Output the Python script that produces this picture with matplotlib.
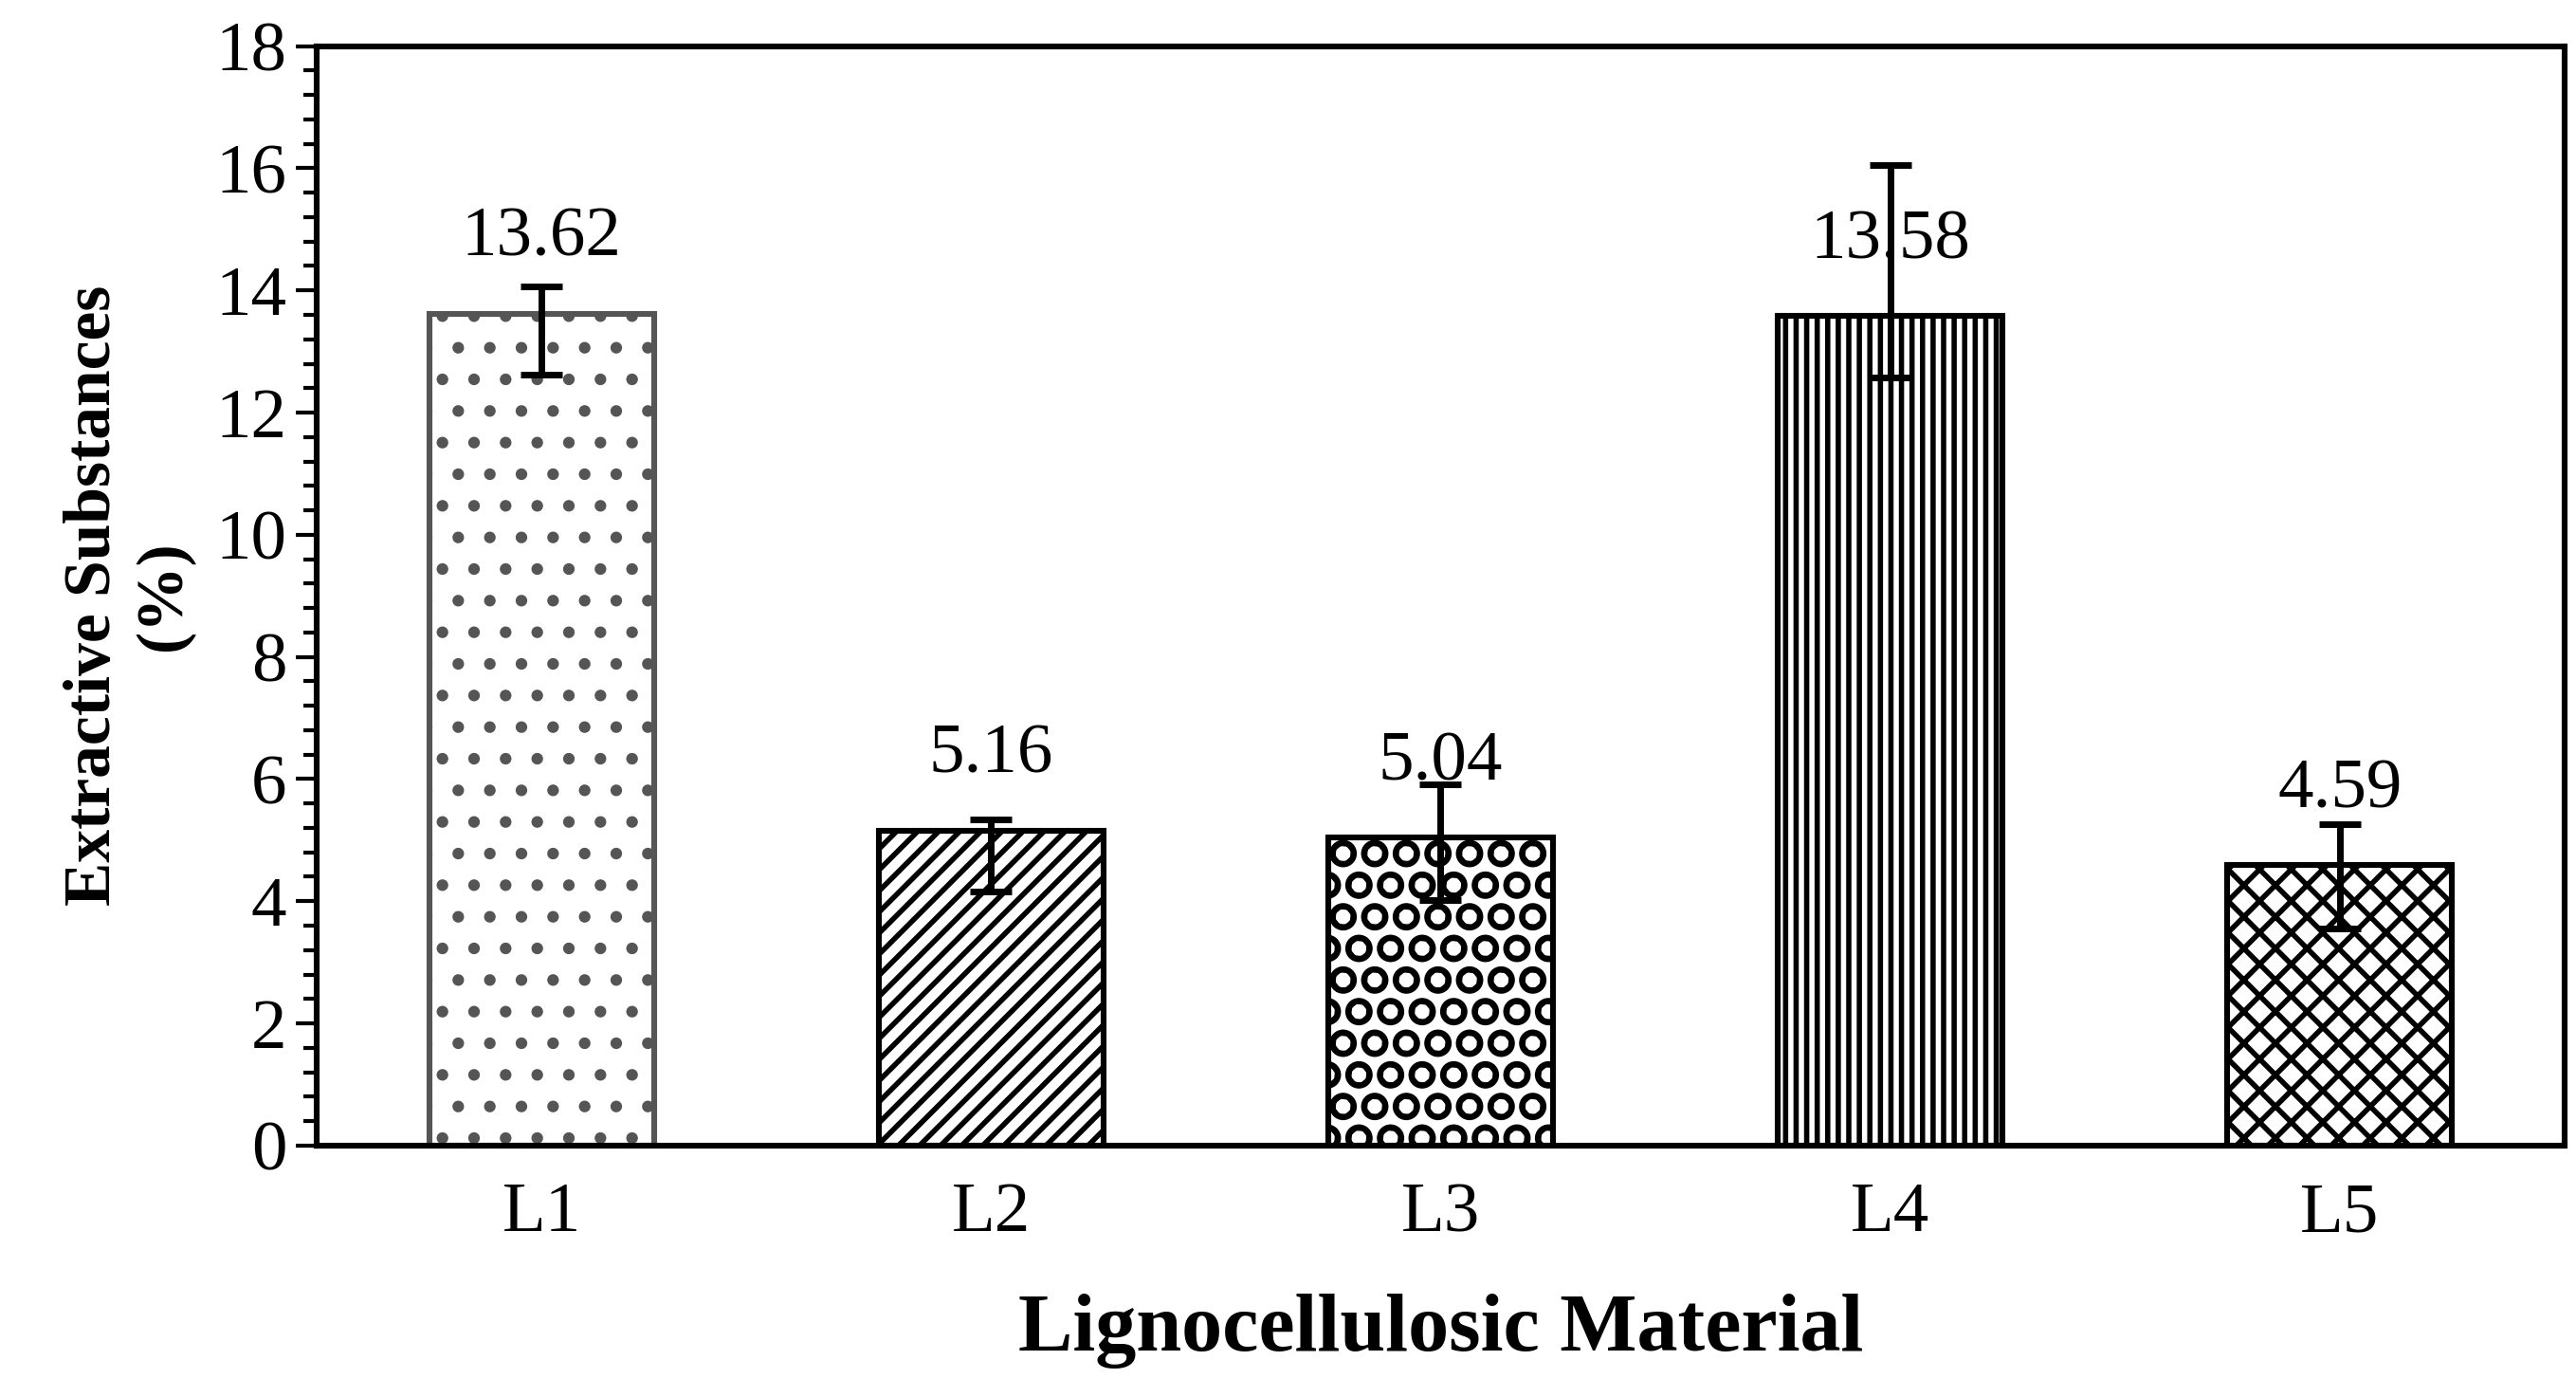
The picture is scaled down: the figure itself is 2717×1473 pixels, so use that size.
import matplotlib
matplotlib.use("Agg")
import matplotlib.pyplot as plt
from matplotlib.ticker import MultipleLocator
import numpy as np

categories = ["L1", "L2", "L3", "L4", "L5"]
values = [13.62, 5.16, 5.04, 13.58, 4.59]
err_low = [1.0, 1.0, 1.02, 1.0, 1.03]
err_high = [0.44, 0.18, 0.87, 2.47, 0.67]
labels = ["13.62", "5.16", "5.04", "13.58", "4.59"]
hatches = [".", "///", "O", "|||", "xx"]
edgecolors = ["#555555", "black", "black", "black", "black"]

plt.rcParams["font.family"] = ["Liberation Serif", "DejaVu Serif"]
plt.rcParams["hatch.linewidth"] = 2.0
fig = plt.figure(figsize=(13.585, 7.365), dpi=200)
ax = fig.add_axes([0.123, 0.18, 0.8725, 0.787])
x = np.arange(len(categories))
for i in range(len(categories)):
    ax.bar(x[i], values[i], width=0.5, color="white", edgecolor=edgecolors[i],
           hatch=hatches[i], linewidth=2.2, zorder=2)
    ax.errorbar(x[i], values[i], yerr=[[err_low[i]], [err_high[i]]], fmt="none",
                ecolor="black", elinewidth=2.5, capsize=8, capthick=2.5, zorder=3)
    ax.text(x[i], values[i] + 0.7, labels[i], ha="center", va="bottom", fontsize=27, zorder=4)
ax.set_xlim(-0.5, 4.5)
ax.set_ylim(0, 18)
ax.yaxis.set_major_locator(MultipleLocator(2))
ax.yaxis.set_minor_locator(MultipleLocator(0.4))
ax.tick_params(axis="y", which="major", direction="out", length=8, width=1.5, labelsize=27)
ax.tick_params(axis="y", which="minor", direction="out", length=5, width=1.5)
ax.tick_params(axis="x", length=0, labelsize=27, pad=14)
ax.set_xticks(x)
ax.set_xticklabels(categories)
for s in ax.spines.values():
    s.set_linewidth(2.2)
ax.set_xlabel("Lignocellulosic Material", fontsize=31, fontweight="bold", labelpad=18)
ax.set_ylabel("Extractive Substances\n(%)", fontsize=25, fontweight="bold", labelpad=8)
fig.savefig("out.png", dpi=200)
